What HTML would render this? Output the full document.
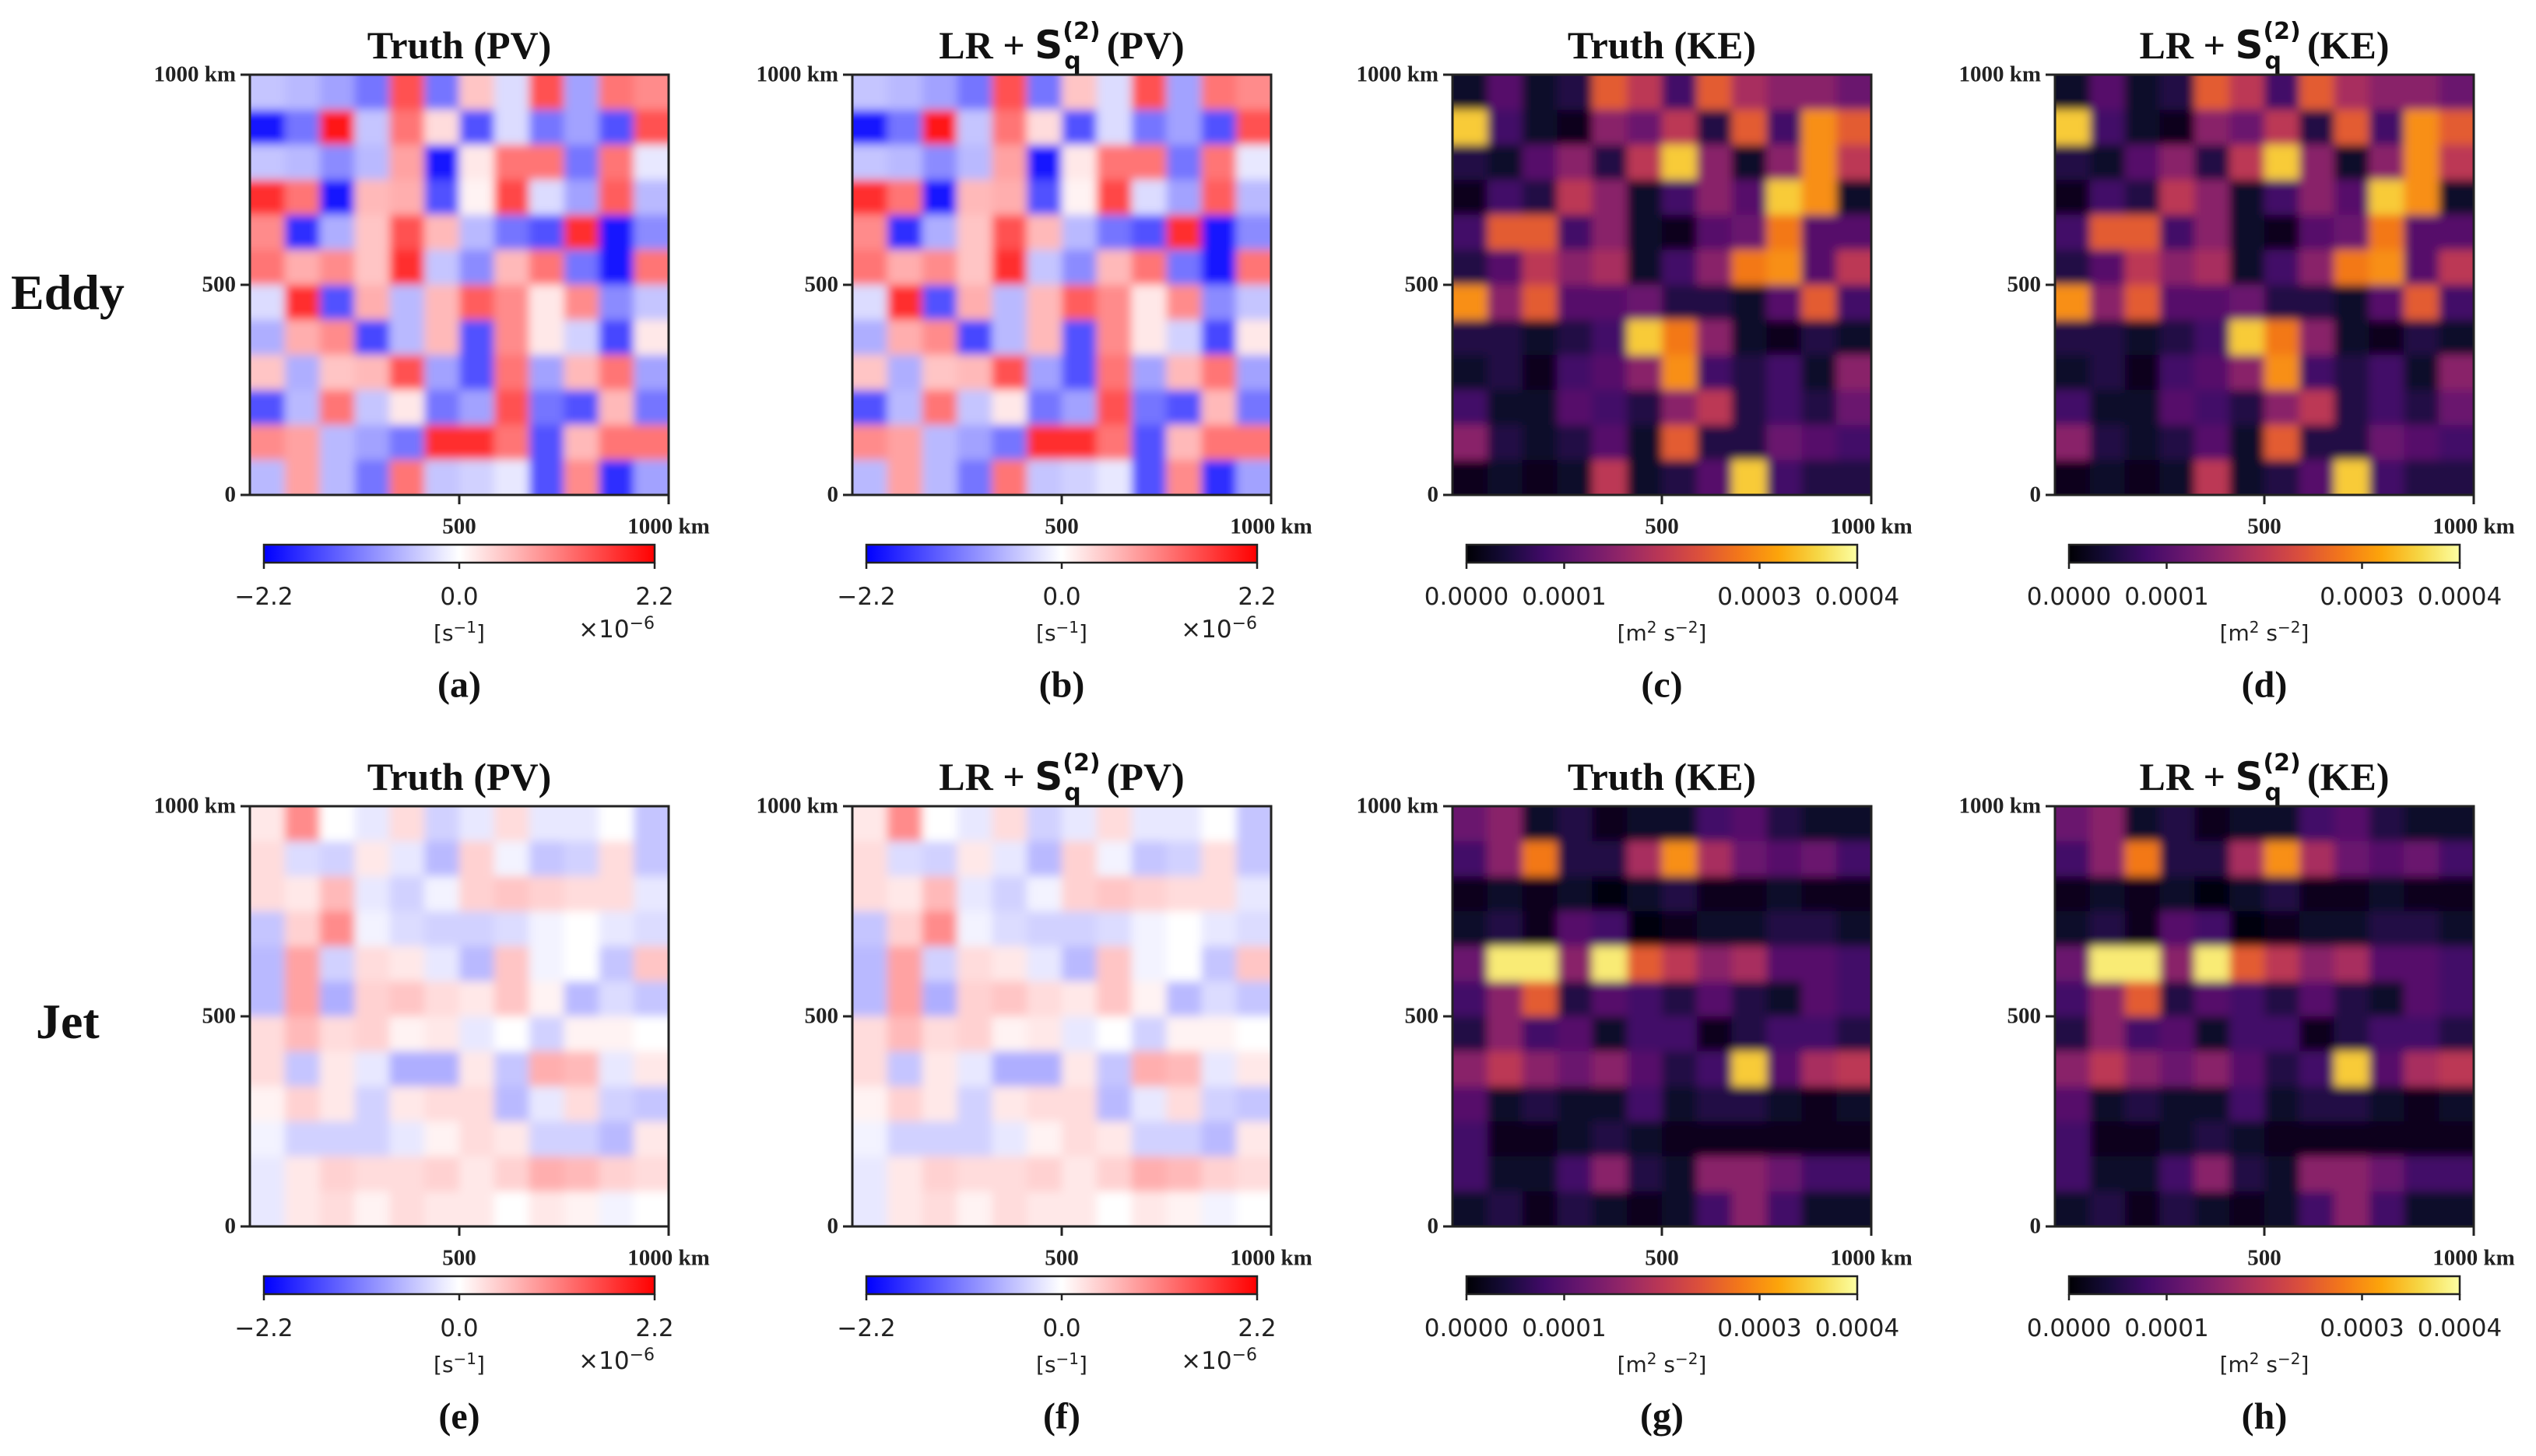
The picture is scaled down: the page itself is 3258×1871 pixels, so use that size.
<!DOCTYPE html>
<html><head><meta charset="utf-8">
<style>
html,body{margin:0;padding:0;background:#fff;}
#root{position:relative;width:3258px;height:1871px;overflow:hidden;background:#fff;}
.t{position:absolute;white-space:nowrap;}
.serif{font-family:"Liberation Serif","DejaVu Serif",serif;}
.sans{font-family:"DejaVu Sans","Liberation Sans",sans-serif;}
</style></head>
<body>
<div id="root">
<svg id="svg" width="3258" height="1871" style="position:absolute;left:0;top:0">
<defs><filter id="soft" x="0" y="0" width="1" height="1"><feGaussianBlur stdDeviation="6"/></filter></defs>
</svg>
</div>
<script>
// ===== data (12x12 grids, rows top->bottom) =====
const pvEddy = [
[-0.5,-0.6,-0.8,-1.2,1.5,-1.2,0.5,-0.3,1.5,-0.8,1.2,1.0],
[-2,-1.2,2,-0.5,1.2,0.3,-1.5,-0.3,-1.2,-0.8,-1.5,1.5],
[-0.5,-0.6,-1.0,-0.6,0.8,-2,0.2,1.2,1.2,-1.2,1.2,-0.2],
[1.8,1.2,-2,0.6,0.7,-1.5,0.1,1.6,-0.3,-0.8,1.4,-0.6],
[1.0,-1.8,-0.7,0.5,1.5,0.6,-0.6,-1.2,-1.5,1.8,-2,-1.0],
[1.2,0.7,1.0,0.5,1.8,-0.5,-1.0,0.6,1.2,-1.2,-2,1.2],
[-0.3,1.8,-1.5,0.7,-0.6,0.6,1.4,1.0,0.2,1.0,-1.0,-0.5],
[-0.7,0.7,1.0,-1.6,-0.6,0.6,-1.5,1.0,0.2,-0.4,-1.6,0.2],
[0.5,-0.7,0.5,0.6,1.5,-0.8,-1.5,1.2,-0.8,0.6,1.2,-0.8],
[-1.5,-0.6,1.2,-0.5,0.2,-1.2,-0.8,1.5,-1.2,-1.5,0.6,-1.2],
[1.0,0.8,-0.6,-0.8,-1.2,1.8,1.8,1.2,-1.5,0.6,1.2,1.2],
[-0.6,0.8,-0.6,-1.2,1.2,-0.5,-0.4,-0.2,-1.5,1.0,-1.8,-0.8]];
const keEddy = [
[0.3,1.0,0.3,0.5,2.5,2.0,0.8,2.5,1.8,1.5,1.5,1.2],
[3.5,0.8,0.3,0.2,1.5,1.2,2.0,0.5,2.5,0.8,3.0,2.5],
[0.5,0.3,1.0,1.5,0.5,2.0,3.5,1.5,0.3,1.5,3.0,2.0],
[0.2,0.8,0.5,2.0,1.5,0.3,0.8,1.5,1.0,3.5,3.0,0.3],
[0.8,2.5,2.5,0.8,1.5,0.3,0.2,1.0,1.2,2.8,1.0,1.0],
[0.5,1.0,2.0,1.5,1.8,0.3,0.8,1.5,2.8,3.0,1.0,2.0],
[3.0,1.5,2.5,1.0,1.0,1.2,0.5,0.5,0.3,1.0,2.5,0.8],
[0.5,0.5,0.3,0.5,0.8,3.5,2.8,1.5,0.3,0.2,0.5,0.3],
[0.3,0.5,0.2,0.8,1.0,1.5,3.0,0.8,0.5,0.8,0.3,1.5],
[0.8,0.3,0.3,1.0,0.8,0.5,1.5,2.0,0.5,0.8,0.5,1.2],
[1.5,0.5,0.3,0.5,1.0,0.3,2.5,0.5,0.5,1.2,1.0,0.8],
[0.2,0.3,0.2,0.3,2.0,0.3,0.5,1.0,3.5,0.8,0.5,0.5]];
const pvJet = [
[0.2,1.0,0.0,-0.2,0.3,-0.4,-0.2,0.3,-0.2,-0.2,0.0,-0.5],
[0.3,-0.3,-0.4,0.2,-0.2,-0.6,0.4,-0.1,-0.5,-0.4,0.3,-0.5],
[0.3,0.2,0.6,-0.2,-0.4,-0.1,0.4,0.5,0.4,0.3,0.3,-0.2],
[-0.5,0.4,1.0,-0.1,-0.3,-0.4,-0.4,-0.3,-0.1,0.0,-0.2,-0.3],
[-0.6,0.8,-0.4,0.3,0.2,-0.2,-0.6,0.5,-0.1,0.0,-0.5,0.5],
[-0.6,0.8,-0.7,0.4,0.5,0.3,0.2,0.5,0.1,-0.6,-0.3,-0.5],
[0.3,0.6,0.3,0.4,0.1,0.2,-0.2,0.0,-0.4,0.1,0.1,0.0],
[0.3,-0.5,0.2,-0.2,-0.7,-0.7,0.2,-0.5,0.7,0.6,-0.2,0.2],
[0.1,0.4,0.2,-0.4,0.2,0.3,0.3,-0.6,-0.2,0.3,-0.4,-0.5],
[-0.1,-0.4,-0.4,-0.4,-0.2,0.1,0.3,0.2,-0.4,-0.4,-0.6,0.2],
[-0.2,0.2,0.4,0.3,0.3,0.4,0.2,0.4,0.7,0.6,0.4,0.3],
[-0.2,0.2,0.3,0.1,0.3,0.2,0.2,0.0,0.2,0.1,-0.1,0.0]];
const keJet = [
[1.2,1.5,0.3,0.5,0.2,0.3,0.3,0.8,1.0,0.5,0.3,0.3],
[0.8,1.5,2.8,0.5,0.5,1.8,3.0,1.8,1.2,1.0,1.2,0.8],
[0.2,0.3,0.2,0.3,0.1,0.3,0.5,0.2,0.2,0.3,0.2,0.2],
[0.3,0.5,0.2,1.0,0.8,0.1,0.2,0.3,0.3,0.5,0.5,0.3],
[1.2,3.8,3.8,1.5,3.8,2.5,2.0,1.5,1.8,1.0,1.0,0.8],
[0.8,1.5,2.5,0.5,1.0,0.8,0.5,1.0,0.5,0.3,1.0,0.8],
[0.5,1.5,0.8,1.0,0.3,0.8,0.8,0.2,0.5,0.8,0.8,0.5],
[1.5,2.0,1.5,1.2,1.5,1.0,0.5,0.8,3.5,1.0,1.8,2.0],
[1.0,0.3,0.5,0.3,0.3,0.8,0.3,0.5,0.5,0.3,0.2,0.3],
[0.8,0.2,0.2,0.3,0.5,0.3,0.2,0.2,0.2,0.2,0.2,0.2],
[0.8,0.3,0.3,0.8,1.5,0.5,0.3,1.5,1.5,1.2,0.8,0.8],
[0.3,0.5,0.2,0.5,0.3,0.2,0.3,0.8,1.5,0.8,0.3,0.3]];
const pvTicks = ["\u22122.2","0.0","2.2"];
const pvTickVals = [-2.2,0,2.2];
const keTicks = ["0.0000","0.0001","0.0003","0.0004"];
const keTickVals = [0,1,3,4];
const axisTicks = ["0","500","1000 km"];
const axisTickVals = [0,500,1000];

const NS="http://www.w3.org/2000/svg";
const svg=document.getElementById('svg');
const root=document.getElementById('root');
function hex(c){return 'rgb('+c.map(v=>Math.round(v)).join(',')+')';}
function bwr(v){let t=Math.max(-1,Math.min(1,v/2.2));
 if(t<0){const a=1+t;return hex([255*a,255*a,255]);} const a=1-t;return hex([255,255*a,255*a]);}
const inf=[[0,0,0,4],[0.1,22,11,57],[0.2,66,10,104],[0.3,106,23,110],[0.4,147,38,103],[0.5,188,55,84],[0.6,221,81,58],[0.7,243,120,25],[0.8,252,165,10],[0.9,246,215,70],[1,252,255,164]];
function inferno(v){let t=Math.max(0,Math.min(1,v/4));
 for(let i=1;i<inf.length;i++){if(t<=inf[i][0]){const a=inf[i-1],b=inf[i],f=(t-a[0])/(b[0]-a[0]);return hex([a[1]+(b[1]-a[1])*f,a[2]+(b[2]-a[2])*f,a[3]+(b[3]-a[3])*f]);}}
 return hex(inf[inf.length-1].slice(1));}
function el(tag,attrs,parent){const e=document.createElementNS(NS,tag);for(const k in attrs)e.setAttribute(k,attrs[k]);(parent||svg).appendChild(e);return e;}
function txt(html,left,top,cls,style,name,align){const d=document.createElement('div');d.className='t '+cls;d.innerHTML=html;
 d.style.cssText+=style;d.style.left=left+'px';d.style.top=top+'px';
 if(align==='c')d.style.transform='translate(-50%,-50%)';else if(align==='r')d.style.transform='translate(-100%,-50%)';else d.style.transform='translateY(-50%)';
 
 
 root.appendChild(d);return d;}

const PW=538, PH=540;
const xs=[321,1095,1866,2640], ys=[96,1036];
const sTitle='LR + <span style="font-family:\'DejaVu Sans\',sans-serif;font-weight:bold">S</span><span style="display:inline-block;position:relative;width:44px;height:10px"><span style="position:absolute;left:0;top:-42px;font-size:30px;font-family:\'DejaVu Sans\',sans-serif;font-weight:bold">(2)</span><span style="position:absolute;left:2px;top:-4px;font-size:30px;font-family:\'DejaVu Sans\',sans-serif;font-weight:bold">q</span></span>';
const panels=[
 {r:0,c:0,data:pvEddy,kind:'pv',title:'Truth (PV)',lab:'(a)'},
 {r:0,c:1,data:pvEddy,kind:'pv',title:sTitle+' (PV)',lab:'(b)'},
 {r:0,c:2,data:keEddy,kind:'ke',title:'Truth (KE)',lab:'(c)'},
 {r:0,c:3,data:keEddy,kind:'ke',title:sTitle+' (KE)',lab:'(d)'},
 {r:1,c:0,data:pvJet,kind:'pv',title:'Truth (PV)',lab:'(e)'},
 {r:1,c:1,data:pvJet,kind:'pv',title:sTitle+' (PV)',lab:'(f)'},
 {r:1,c:2,data:keJet,kind:'ke',title:'Truth (KE)',lab:'(g)'},
 {r:1,c:3,data:keJet,kind:'ke',title:sTitle+' (KE)',lab:'(h)'}];

panels.forEach((p,pi)=>{
 const X=xs[p.c],Y=ys[p.r];
 const n=p.data.length,m=p.data[0].length;
 const xScale=j=>X+j*PW/m, yScale=i=>Y+i*PH/n;
 const cmap=p.kind==='pv'?bwr:inferno;
 const cid='clip'+pi;
 const cp=el('clipPath',{id:cid});el('rect',{x:X,y:Y,width:PW,height:PH},cp);
 const g=el('g',{'clip-path':'url(#'+cid+')'});
 
 
 el('rect',{x:X,y:Y,width:PW,height:PH,fill:p.kind==='pv'?'#fff':'#000004'},g);
 const inner=el('g',{filter:'url(#soft)'},g);
 for(let i=-1;i<=n;i++)for(let j=-1;j<=m;j++){
  const ii=Math.max(0,Math.min(n-1,i)),jj=Math.max(0,Math.min(m-1,j));
  const r=el('rect',{x:xScale(j),y:yScale(i),width:PW/m+1,height:PH/n+1,fill:cmap(p.data[ii][jj])},inner);
  
  
 }
 const fr=el('rect',{x:X,y:Y,width:PW,height:PH,fill:'none',stroke:'#222','stroke-width':3});
 
 
 axisTickVals.forEach((v,k)=>{const yy=Y+PH-v/1000*PH;
  el('line',{x1:X-12,x2:X,y1:yy,y2:yy,stroke:'#222','stroke-width':3});
  txt(axisTicks[k],X-18,yy,'serif','font-size:29px;font-weight:bold;color:#222;','y-tick-label','r');});
 axisTickVals.slice(1).forEach((v,k)=>{const xx=X+v/1000*PW;
  el('line',{x1:xx,x2:xx,y1:Y+PH,y2:Y+PH+12,stroke:'#222','stroke-width':3});
  txt(axisTicks[k+1],xx,Y+PH+41,'serif','font-size:29px;font-weight:bold;color:#222;','x-tick-label','c');});
 txt(p.title,X+PW/2,Y-38,'serif','font-size:50px;font-weight:bold;color:#111;','panel-title','c');
 const cbx=X+18,cbw=PW-36,cby=Y+604,cbh=23;
 const gid='grad'+pi;const lg=el('linearGradient',{id:gid,x1:0,x2:1,y1:0,y2:0},svg.querySelector('defs'));
 for(let k=0;k<=20;k++){const f=k/20;const v=p.kind==='pv'?-2.2+4.4*f:4*f;el('stop',{offset:f,'stop-color':cmap(v)},lg);}
 const cb=el('rect',{x:cbx,y:cby,width:cbw,height:cbh,fill:'url(#'+gid+')',stroke:'#222','stroke-width':2.5});
 
 
 const tl=p.kind==='pv'?pvTicks:keTicks, tv=p.kind==='pv'?pvTickVals:keTickVals;
 tv.forEach((v,k)=>{const f=p.kind==='pv'?(v+2.2)/4.4:v/4;const xx=cbx+f*cbw;
  el('line',{x1:xx,x2:xx,y1:cby+cbh,y2:cby+cbh+8,stroke:'#222','stroke-width':2.5});
  txt(tl[k],xx,cby+67,'sans','font-size:31px;color:#222;','colorbar-tick-label','c');});
 if(p.kind==='pv'){
  txt('[s<sup style="font-size:20px">\u22121</sup>]',X+PW/2,Y+716,'sans','font-size:28px;color:#222;','colorbar-unit','c');
  txt('\u00d710<sup style="font-size:22px">\u22126</sup>',cbx+cbw,Y+712,'sans','font-size:31px;color:#222;','colorbar-scale-factor','r');
 } else {
  txt('[m<sup style="font-size:20px">2</sup> s<sup style="font-size:20px">\u22122</sup>]',X+PW/2,Y+716,'sans','font-size:28px;color:#222;','colorbar-unit','c');
 }
 txt(p.lab,X+PW/2,Y+784,'serif','font-size:48px;font-weight:bold;color:#111;','panel-label','c');
});
txt('Eddy',14,376,'serif','font-size:64px;font-weight:bold;color:#111;','row-label-eddy','l');
txt('Jet',46,1313,'serif','font-size:64px;font-weight:bold;color:#111;','row-label-jet','l');
</script>
</body></html>
